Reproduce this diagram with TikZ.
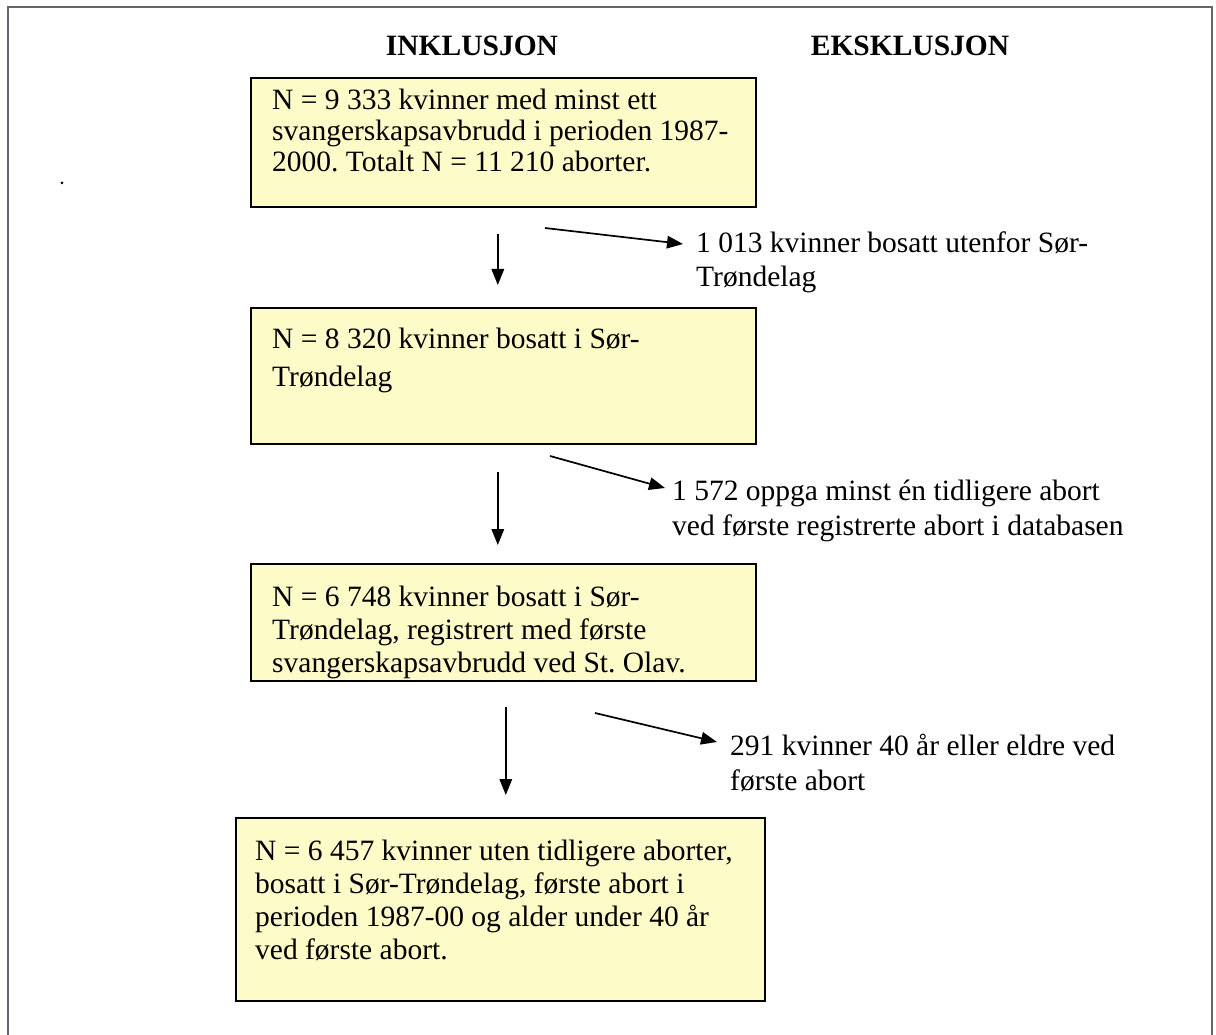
\documentclass[tikz,border=0pt]{standalone}
\usepackage{fontspec}
\setmainfont{Liberation Serif}
\usetikzlibrary{arrows.meta}
\definecolor{boxfill}{RGB}{253,251,200}
\definecolor{framegray}{RGB}{100,100,112}
\frenchspacing
\begin{document}
\begin{tikzpicture}[x=1pt,y=-1pt,
  box/.style={draw=black, line width=1.6pt, fill=boxfill, rectangle, inner sep=0pt, anchor=north west},
  txt/.style={inner sep=0pt, anchor=base west, font=\fontsize{29.5}{33.5}\selectfont},
  head/.style={inner sep=0pt, anchor=base, font=\fontsize{29.5}{32}\selectfont\bfseries},
  arr/.style={line width=1.7pt, -{Triangle[length=16pt,width=12.5pt]}},
  frame/.style={line width=1.4pt, draw=framegray}]
\useasboundingbox (0,0) rectangle (1216,1035);
\draw[frame] (8,1035) -- (8,7) -- (1212,7) -- (1212,1035);
\fill (62,183) circle (1.5pt);

\node[head] (h1) at (472,56) {INKLUSJON};
\node[head] (h2) at (910,56) {EKSKLUSJON};

\node[box, minimum width=505pt, minimum height=129pt] (b1) at (250,77) {};
\node[box, minimum width=505pt, minimum height=136pt] (b2) at (250,307) {};
\node[box, minimum width=505pt, minimum height=117pt] (b3) at (250,563) {};
\node[box, minimum width=529pt, minimum height=183pt] (b4) at (235,817) {};

\node[txt, font=\fontsize{29.5}{31}\selectfont] (t1) at (272,110) {\parbox[t]{600pt}{N = 9 333 kvinner med minst ett\\svangerskapsavbrudd i perioden 1987-\\2000. Totalt N = 11 210 aborter.}};
\node[txt, font=\fontsize{29.5}{38}\selectfont] (t2) at (272,348) {\parbox[t]{600pt}{N = 8 320 kvinner bosatt i Sør-\\Trøndelag}};
\node[txt, font=\fontsize{29.5}{33}\selectfont] (t3) at (272,606) {\parbox[t]{600pt}{N = 6 748 kvinner bosatt i Sør-\\Trøndelag, registrert med første\\svangerskapsavbrudd ved St. Olav.}};
\node[txt, font=\fontsize{29.5}{33}\selectfont] (t4) at (255,860) {\parbox[t]{600pt}{N = 6 457 kvinner uten tidligere aborter,\\bosatt i Sør-Trøndelag, første abort i\\perioden 1987-00 og alder under 40 år\\ved første abort.}};

\node[txt, font=\fontsize{29.5}{34}\selectfont] (e1) at (696,253) {\parbox[t]{600pt}{1 013 kvinner bosatt utenfor Sør-\\Trøndelag}};
\node[txt, font=\fontsize{29.5}{35}\selectfont] (e2) at (672,500) {\parbox[t]{600pt}{1 572 oppga minst én tidligere abort\\ved første registrerte abort i databasen}};
\node[txt, font=\fontsize{29.5}{35}\selectfont] (e3) at (730,755) {\parbox[t]{600pt}{291 kvinner 40 år eller eldre ved\\første abort}};

\draw[arr, shorten <=26pt, shorten >=22pt] ([xshift=-5.5pt]b1.south) -- ([xshift=-5.5pt]b2.north);
\draw[arr, shorten <=27pt, shorten >=18pt] ([xshift=-5.5pt]b2.south) -- ([xshift=-5.5pt]b3.north);
\draw[arr, shorten <=25pt, shorten >=22pt] ([xshift=2.5pt]b3.south) -- ([xshift=5.5pt]b4.north);

\coordinate (s1) at (545,228);
\coordinate (p1) at (683,244);
\coordinate (s2) at (550,456);
\coordinate (p2) at (665,488);
\coordinate (s3) at (595,713);
\coordinate (p3) at (717,742);
\draw[arr] (s1) -- (p1);
\draw[arr] (s2) -- (p2);
\draw[arr] (s3) -- (p3);
\end{tikzpicture}
\end{document}
